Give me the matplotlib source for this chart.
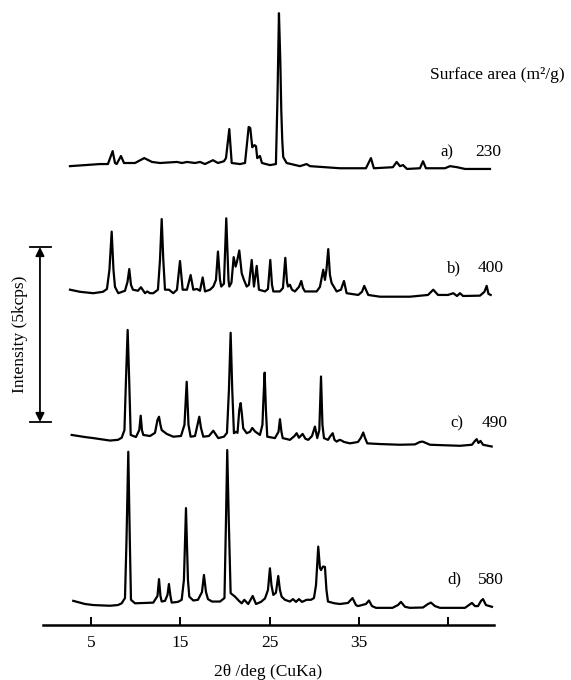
import matplotlib
matplotlib.use("Agg")
import matplotlib.pyplot as plt

plt.rcParams['font.family'] = ['Liberation Serif', 'DejaVu Serif']

# ---------------- data (2theta in deg, intensity in kcps) ----------------
tt_a = [2.65, 6.01, 6.90, 7.43, 7.69, 7.88, 8.36, 8.70, 9.93, 10.97, 11.83, 12.73, 14.63, 15.19,
        15.75, 16.65, 17.21, 17.77, 18.66, 19.22, 19.89, 20.12, 20.49, 20.76, 21.69, 22.25, 22.66,
        22.84, 23.06, 23.31, 23.48, 23.62, 23.92, 24.15, 25.04, 25.71, 25.88, 26.05, 26.20, 26.31,
        26.42, 26.53, 26.91, 28.40, 29.15, 29.52, 32.88, 35.79, 36.35, 36.68, 38.81, 39.23, 39.60,
        39.94, 40.39, 41.84, 42.18, 42.51, 44.64, 45.20, 45.99, 46.88, 49.68]
int_a = [0.17, 0.23, 0.23, 0.60, 0.26, 0.23, 0.46, 0.26, 0.26, 0.40, 0.29, 0.26, 0.29, 0.26,
         0.29, 0.26, 0.29, 0.23, 0.34, 0.26, 0.31, 0.40, 1.23, 0.26, 0.23, 0.26, 1.29,
         1.26, 0.71, 0.77, 0.74, 0.40, 0.46, 0.26, 0.20, 0.23, 2.06, 4.54, 3.20, 1.77,
         0.91, 0.43, 0.26, 0.17, 0.23, 0.17, 0.11, 0.11, 0.40, 0.11, 0.14, 0.29, 0.17,
         0.20, 0.09, 0.11, 0.31, 0.11, 0.11, 0.17, 0.14, 0.09, 0.09]

tt_b = [2.65, 3.77, 5.26, 6.34, 6.79, 7.07, 7.32, 7.52, 7.69, 8.06, 8.81, 9.09, 9.29, 9.48, 9.70,
        10.26, 10.60, 11.05, 11.30, 11.61, 11.98, 12.50, 12.73, 12.92, 13.10, 13.29, 13.73, 14.22,
        14.63, 14.97, 15.27, 15.75, 16.16, 16.46, 16.87, 17.21, 17.51, 17.77, 18.33, 18.70, 19.00,
        19.22, 19.45, 19.59, 19.89, 20.15, 20.40, 20.49, 20.73, 20.98, 21.20, 21.35, 21.61, 21.88,
        22.13, 22.44, 22.69, 23.00, 23.25, 23.56, 23.81, 24.49, 24.82, 25.08, 25.27, 25.42, 26.16,
        26.50, 26.76, 26.95, 27.06, 27.28, 27.51, 27.84, 28.29, 28.55, 28.74, 28.96, 30.27, 30.64,
        31.01, 31.20, 31.37, 31.57, 31.76, 31.95, 32.51, 32.99, 33.33, 33.63, 34.93, 35.35, 35.60,
        36.05, 37.36, 40.72, 42.74, 43.33, 43.86, 44.98, 45.57, 45.99, 46.32, 46.66, 48.56, 49.06,
        49.31, 49.51, 49.76]
int_b = [0.29, 0.23, 0.19, 0.23, 0.31, 0.86, 1.95, 0.86, 0.37, 0.19, 0.26, 0.51, 0.88, 0.43, 0.29,
         0.26, 0.36, 0.19, 0.24, 0.19, 0.19, 0.29, 1.14, 2.31, 1.14, 0.29, 0.29, 0.19,
         0.29, 1.11, 0.29, 0.29, 0.71, 0.29, 0.31, 0.26, 0.64, 0.24, 0.29, 0.38, 0.57,
         1.38, 0.57, 0.38, 0.46, 2.33, 0.57, 0.38, 0.49, 1.22, 0.95, 1.09, 1.41, 0.76,
         0.57, 0.38, 0.43, 1.14, 0.38, 0.97, 0.29, 0.24, 0.31, 1.14, 0.43, 0.24, 0.24,
         0.34, 1.20, 0.51, 0.38, 0.43, 0.29, 0.24, 0.37, 0.54, 0.34, 0.24, 0.24, 0.37,
         0.86, 0.57, 0.86, 1.45, 0.71, 0.48, 0.24, 0.29, 0.54, 0.19, 0.14, 0.23, 0.40,
         0.14, 0.09, 0.09, 0.14, 0.29, 0.14, 0.14, 0.19, 0.11, 0.19, 0.11, 0.12, 0.23,
         0.40, 0.17, 0.14]

tt_c = [2.84, 4.33, 5.26, 7.13, 8.02, 8.44, 8.75, 8.92, 9.11, 9.28, 9.45, 10.04, 10.41, 10.57, 10.71,
        10.86, 11.61, 12.17, 12.45, 12.62, 12.78, 12.92, 13.48, 14.22, 15.08, 15.47, 15.72, 15.92,
        16.16, 16.65, 16.93, 17.13, 17.32, 17.58, 18.21, 18.70, 19.25, 19.89, 20.23, 20.45, 20.64,
        20.82, 21.01, 21.24, 21.41, 21.61, 21.76, 21.91, 22.05, 22.44, 22.81, 23.06, 23.37, 23.92,
        24.20, 24.31, 24.45, 24.59, 24.74, 25.60, 26.00, 26.16, 26.33, 26.47, 27.28, 27.79, 28.03,
        28.29, 28.70, 29.02, 29.33, 29.75, 30.08, 30.34, 30.57, 30.76, 30.92, 31.09, 31.54, 31.82,
        32.07, 32.27, 32.51, 32.83, 33.07, 33.33, 34.00, 34.90, 35.23, 35.49, 35.68, 35.94, 37.36,
        39.60, 41.28, 41.84, 42.14, 42.51, 42.96, 46.32, 47.66, 48.00, 48.19, 48.39, 48.62, 48.90,
        49.87]
int_c = [0.37, 0.31, 0.28, 0.21, 0.23, 0.29, 0.51, 1.94, 3.37, 1.94, 0.37, 0.31, 0.51, 0.92, 0.51,
         0.37, 0.34, 0.43, 0.80, 0.89, 0.66, 0.51, 0.40, 0.32, 0.34, 0.66, 1.89, 0.66,
         0.32, 0.34, 0.66, 0.89, 0.57, 0.32, 0.34, 0.49, 0.28, 0.32, 0.43, 1.66, 3.29,
         1.66, 0.42, 0.46, 0.43, 1.09, 1.28, 0.94, 0.56, 0.42, 0.46, 0.57, 0.47, 0.37,
         0.66, 1.37, 2.15, 1.09, 0.32, 0.28, 0.46, 0.82, 0.46, 0.28, 0.23, 0.34, 0.42,
         0.29, 0.40, 0.26, 0.23, 0.34, 0.61, 0.28, 0.51, 2.04, 0.66, 0.28, 0.23, 0.34,
         0.42, 0.23, 0.18, 0.23, 0.21, 0.17, 0.13, 0.17, 0.29, 0.44, 0.29, 0.13, 0.11,
         0.09, 0.10, 0.17, 0.18, 0.14, 0.09, 0.06, 0.09, 0.20, 0.25, 0.14, 0.20, 0.09,
         0.04]

tt_d = [3.02, 4.33, 5.26, 7.13, 8.02, 8.44, 8.81, 8.98, 9.18, 9.35, 9.48, 9.93, 11.05, 11.98, 12.45,
        12.62, 12.78, 12.92, 13.29, 13.57, 13.73, 13.90, 14.04, 14.74, 15.16, 15.41, 15.64, 15.86,
        16.01, 16.46, 16.98, 17.43, 17.65, 17.88, 18.10, 18.55, 19.45, 19.95, 20.12, 20.26, 20.43,
        20.64, 21.13, 21.57, 21.88, 22.17, 22.61, 23.11, 23.48, 24.04, 24.49, 24.82, 25.04, 25.21,
        25.42, 25.71, 25.97, 26.16, 26.35, 26.72, 27.28, 27.62, 27.96, 28.29, 28.63, 29.15, 29.64,
        29.97, 30.20, 30.45, 30.64, 30.76, 30.98, 31.20, 31.37, 31.54, 32.27, 32.88, 33.78, 34.29,
        34.67, 34.90, 35.79, 36.13, 36.47, 36.92, 38.76, 39.38, 39.71, 40.16, 40.72, 42.18, 42.74,
        43.07, 43.52, 44.08, 46.88, 47.32, 47.66, 48.00, 48.34, 48.68, 48.90, 49.23, 49.90]
int_d = [0.26, 0.17, 0.14, 0.12, 0.14, 0.19, 0.34, 2.00, 4.52, 2.00, 0.29, 0.19, 0.20, 0.21, 0.40,
         0.88, 0.40, 0.24, 0.26, 0.43, 0.74, 0.40, 0.21, 0.23, 0.29, 0.86, 2.91, 0.86,
         0.38, 0.27, 0.29, 0.51, 1.00, 0.51, 0.31, 0.24, 0.24, 0.34, 2.57, 4.57, 2.57,
         0.48, 0.38, 0.26, 0.19, 0.29, 0.17, 0.40, 0.17, 0.23, 0.33, 0.57, 1.19, 0.71,
         0.43, 0.49, 0.97, 0.57, 0.38, 0.29, 0.24, 0.31, 0.23, 0.31, 0.23, 0.29, 0.29,
         0.34, 0.71, 1.81, 1.20, 1.14, 1.24, 1.23, 0.57, 0.24, 0.19, 0.17, 0.20, 0.34,
         0.14, 0.11, 0.17, 0.27, 0.11, 0.06, 0.06, 0.14, 0.23, 0.09, 0.06, 0.07, 0.17,
         0.21, 0.11, 0.06, 0.06, 0.14, 0.20, 0.11, 0.11, 0.26, 0.31, 0.14, 0.09]

sample_labels = ["a)", "b)", "c)", "d)"]
surface_areas = ["230", "400", "490", "580"]
tick_values = [5, 15, 25, 35, 45]
tick_labels = ["5", "15", "25", "35", ""]

# ---------------- figure ----------------
W, H = 571, 680
fig = plt.figure(figsize=(W / 100, H / 100), dpi=100)
ax = fig.add_axes([43 / W, (H - 625) / H, 451 / W, 620 / H])
ax.set_xlim(-0.37, 50.13)
ax.set_ylim(0, 620 / 35)

offsets = [12.94, 9.29, 5.06, 0.43]
series = [(tt_a, int_a), (tt_b, int_b), (tt_c, int_c), (tt_d, int_d)]
for (tt, inten), off in zip(series, offsets):
    ax.plot(tt, [v + off for v in inten], color='black', lw=1.6,
            solid_joinstyle='round', clip_on=False)

# labels on right
lab_pos = [(44.08, 13.51), (44.87, 10.2), (45.2, 5.77), (44.87, 1.29)]
num_x = [48.0, 48.34, 48.78, 48.34]
for (lx, ly), nx, lab, sa in zip(lab_pos, num_x, sample_labels, surface_areas):
    ax.text(lx, ly, lab, fontsize=12, ha='left', va='center')
    ax.text(nx, ly, sa, fontsize=12.5, ha='left', va='center')

ax.text(42.96, 15.71, "Surface area (m²/g)", fontsize=12.5, ha='left', va='center')

# intensity scale bar (5 kcps)
bx = -0.71
y0, y1 = 5.8, 10.8
ax.annotate('', xy=(bx, y1), xytext=(bx, y0),
            arrowprops=dict(arrowstyle='<|-|>', color='black', lw=1.3,
                            mutation_scale=13, shrinkA=0, shrinkB=0),
            annotation_clip=False)
for yy in (y0, y1):
    ax.plot([-1.83, 0.52], [yy, yy], color='black', lw=1.3, clip_on=False)
ax.text(-2.95, 8.3, "Intensity (5kcps)", rotation=90, fontsize=12.5,
        ha='center', va='center')

# axes styling
for s in ('left', 'top', 'right'):
    ax.spines[s].set_visible(False)
ax.spines['bottom'].set_linewidth(1.8)
ax.set_yticks([])
ax.set_xticks(tick_values)
ax.set_xticklabels(tick_labels)
ax.tick_params(axis='x', direction='in', length=6, width=1.4, pad=7, labelsize=12.5)
ax.set_xlabel("2θ /deg (CuKa)", fontsize=12.5, labelpad=9.5)
ax.patch.set_alpha(0)

fig.savefig("out.png", dpi=100)
